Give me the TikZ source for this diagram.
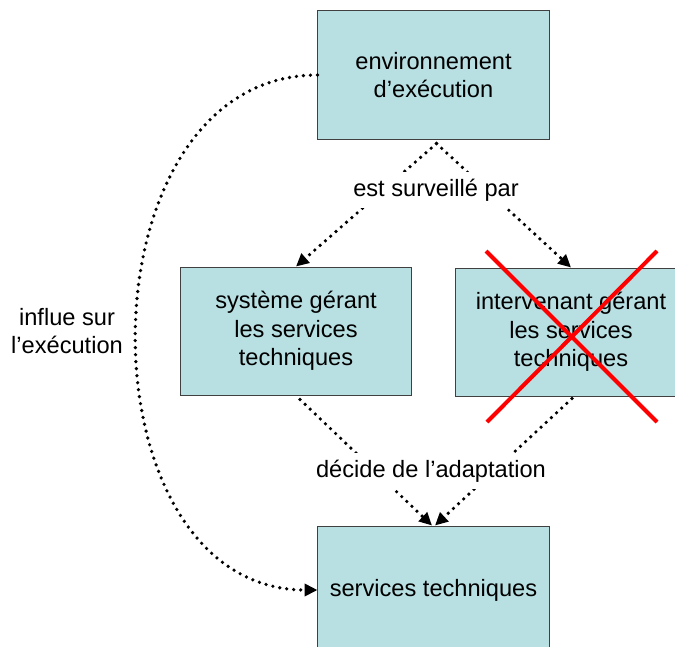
\documentclass[tikz,border=0pt]{standalone}
\usepackage{fontspec}
\setmainfont{Liberation Sans}
\usetikzlibrary{calc,arrows.meta}
\definecolor{boxcyan}{RGB}{184,223,226}
\tikzset{
	box/.style={draw=black!75, line width=0.7pt, fill=boxcyan, align=center, minimum width=5.775cm, minimum height=3.2cm, inner sep=0pt},
	dotarrow/.style={line width=2.6pt, line cap=round, dash pattern=on 0pt off 5pt, -{Triangle[length=0.32cm,width=0.3cm]}},
	lbl/.style={fill=white, align=center, inner xsep=2pt, inner ysep=5pt}
}

\begin{document}
\begin{tikzpicture}[x=0.025cm, y=-0.025cm, font=\fontsize{16.8pt}{20.2pt}\selectfont]
		%%%%% START %%%%%
		
		\useasboundingbox (0, 0) rectangle (675, 646);
		\clip (0, 0) rectangle (675, 646);
		
		\node[box] (env) at (433.5, 75) {environnement\\d’exécution};
		\node[box] (sgts) at (296, 331) {système gérant\\les services\\techniques};
		\node[box] (igts) at (571, 332) {intervenant gérant\\les services\\techniques};
		\node[box] (svc) at (433.5, 590) {services techniques};
		
		\draw[dotarrow] ($(env.south)+(3, 4)$) -- (sgts.north);
		\draw[dotarrow] ($(env.south)+(3, 4)$) -- (igts.north);
		
		\draw[dotarrow] ($(sgts.south)+(4, 4)$) -- ($(svc.north)+(-1.5, 0)$);
		\draw[dotarrow] ($(igts.south)+(1, 2)$) -- ($(svc.north)+(1.5, 0)$);
		
		\draw[dotarrow] (env.west) .. controls +(-241, 0) and +(-241, 0) .. (svc.west);
		
		\node[lbl] (surv) at (436, 190) {est surveillé par};
		\node[lbl] (adapt) at (431, 471) {décide de l’adaptation};
		\node[align=center] (influe) at (67, 331) {influe sur\\l’exécution};
		
		\draw[line width=0.1cm, color=red] (486, 251) -- (657, 422);
		\draw[line width=0.1cm, color=red] (657, 251) -- (487, 422);
		
		%%%%% END %%%%%
	\end{tikzpicture}
\end{document}
